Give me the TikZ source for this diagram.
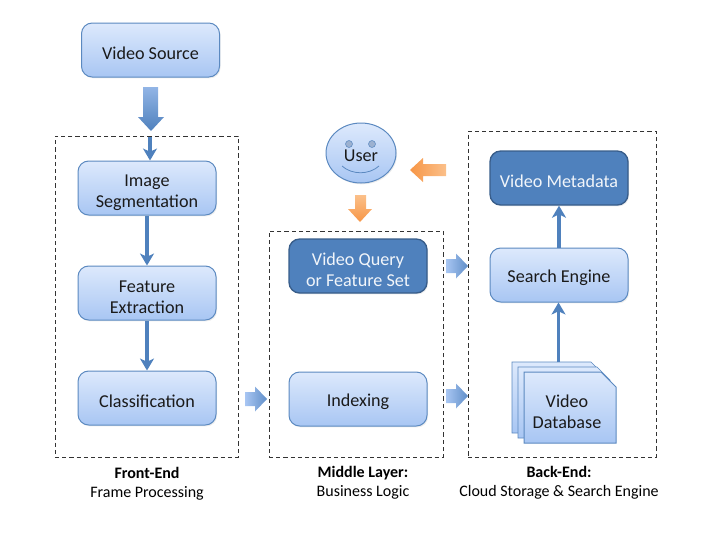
\documentclass[tikz,border=0pt]{standalone}
\usepackage{fontspec}
\setmainfont{Carlito}
\usepackage{tikz}
\usetikzlibrary{arrows.meta}
\usetikzlibrary{shapes.geometric}
\usetikzlibrary{shadows}
\definecolor{boxline}{HTML}{5B89C0}
\definecolor{boxtop}{HTML}{DDE9FC}
\definecolor{boxbot}{HTML}{A8C6F3}
\definecolor{darkfill}{HTML}{4F81BD}
\definecolor{darkline}{HTML}{385D8A}
\definecolor{linkcol}{HTML}{4F81BD}
\definecolor{orangetop}{HTML}{FBC08A}
\definecolor{orangebot}{HTML}{F79646}
\definecolor{labelcol}{HTML}{1A1A1A}
\tikzset{
  lightbox/.style={draw=boxline,line width=.75pt,rounded corners=8pt,top color=boxtop,bottom color=boxbot,
    minimum width=103.5pt,minimum height=40.5pt,align=center,text=labelcol,font=\fontsize{13.6}{16}\selectfont,
    execute at begin node={\rule{0pt}{14pt}},
    drop shadow={opacity=.15,shadow xshift=.8pt,shadow yshift=-1pt}},
  darkbox/.style={lightbox,top color=darkfill,bottom color=darkfill,draw=darkline,line width=1pt,text=white!92!darkfill},
  group/.style={draw=black!80,line width=.75pt,dash pattern=on 3.2pt off 2.2pt},
  link/.style={draw=linkcol,line width=2.4pt,-{Stealth[length=9pt,width=10.5pt,inset=2.5pt]}},
  bluearrow/.style={left color=boxbot,right color=linkcol!80!boxbot},
  caption/.style={align=center,text=black,font=\fontsize{12}{14.6}\selectfont},
}
\newcommand{\rightblock}[1]{\path[bluearrow,shift={#1}] (0,-7) -- (10,-7) -- (10,-12.5) -- (22,0) -- (10,12.5) -- (10,7) -- (0,7) -- cycle;}
\newcommand{\lowtext}{\rule{0pt}{15.5pt}}
\begin{document}
\begin{tikzpicture}[x=.75pt,y=-.75pt]
  \useasboundingbox (0,0) rectangle (720,540);
  % groups
  \node[group,minimum width=137.25pt,minimum height=240.75pt] (front) at (146.5,296.5) {};
  \node[group,minimum width=130.5pt,minimum height=169.5pt] (middle) at (356,344) {};
  \node[group,minimum width=141pt,minimum height=244.5pt] (back) at (562,294) {};
  % boxes
  \node[lightbox] (source) at (150.5,50) {Video Source};
  \node[lightbox] (segment) at (147,188) {\lowtext Image\\Segmentation};
  \node[lightbox] (feature) at (147,293) {\lowtext Feature\\Extraction};
  \node[lightbox] (classify) at (147,398) {Classification};
  \node[darkbox] (query) at (358,266) {\lowtext Video Query\\or Feature Set};
  \node[lightbox] (index) at (358,399) {Indexing};
  \node[lightbox] (search) at (559,275) {Search Engine};
  \node[darkbox] (meta) at (559,178) {Video Metadata};
  % user
  \node[draw=boxline,line width=.75pt,ellipse,top color=boxtop,bottom color=boxbot,minimum width=52.5pt,minimum height=45pt,inner sep=0pt,
    drop shadow={opacity=.15,shadow xshift=.8pt,shadow yshift=-1pt}] (user) at (361,153) {};
  \draw[boxline,fill=boxbot!70!gray] (349,144) circle (3.5);
  \draw[boxline,fill=boxbot!70!gray] (372,144) circle (3.5);
  \draw[boxline,line width=.6pt] (342,166) .. controls (352,175) and (369,175) .. (379,166);
  \node[font=\fontsize{13.6}{16}\selectfont,text=labelcol,inner sep=0pt] (userlabel) at (361,156) {User};
  % database
  \draw[boxline,line width=.5pt,top color=boxtop,bottom color=boxbot] (512,362) -- (591,362) -- (604,375) -- (604,433) -- (512,433) -- cycle;
  \draw[boxline,line width=.5pt,top color=boxtop,bottom color=boxbot] (518,367) -- (597,367) -- (610,380) -- (610,438) -- (518,438) -- cycle;
  \draw[boxline,line width=.75pt,top color=boxtop,bottom color=boxbot] (524,372) -- (601,372) -- (616,387) -- (616,443) -- (524,443) -- cycle;
  \node[align=center,text=labelcol,font=\fontsize{13.6}{16}\selectfont] (db) at (567,412) {Video\\Database};
  \coordinate (dbtop) at (558.5,362);
  \coordinate (fronttop) at (150,137);
  % links
  \draw[link] (fronttop) -- (segment.north -| fronttop);
  \draw[link] (segment) -- (feature);
  \draw[link] (feature) -- (classify);
  \draw[link] (dbtop) -- (search.south -| dbtop);
  \draw[link] (search) -- (meta);
  % block arrows
  \path[top color=boxbot!75!linkcol,bottom color=linkcol] (143,87) -- (158,87) -- (158,117) -- (164,117) -- (151,131) -- (138,117) -- (143,117) -- cycle;
  \rightblock{(245,399)}
  \rightblock{(446,396)}
  \rightblock{(446,266)}
  \path[left color=orangebot,right color=orangetop] (446,164) -- (423,164) -- (423,158) -- (410,170) -- (423,182) -- (423,176) -- (446,176) -- cycle;
  \path[top color=orangetop,bottom color=orangebot] (355,195) -- (366,195) -- (366,209) -- (372,209) -- (360,222) -- (348,209) -- (355,209) -- cycle;
  % captions
  \node[caption] (fronttext) at (147,484) {\textbf{Front-End}\\Frame Processing};
  \node[caption] (middletext) at (363,483) {\textbf{Middle Layer:}\\Business Logic};
  \node[caption] (backtext) at (559,483) {\textbf{Back-End:}\\Cloud Storage \& Search Engine};
\end{tikzpicture}
\end{document}
